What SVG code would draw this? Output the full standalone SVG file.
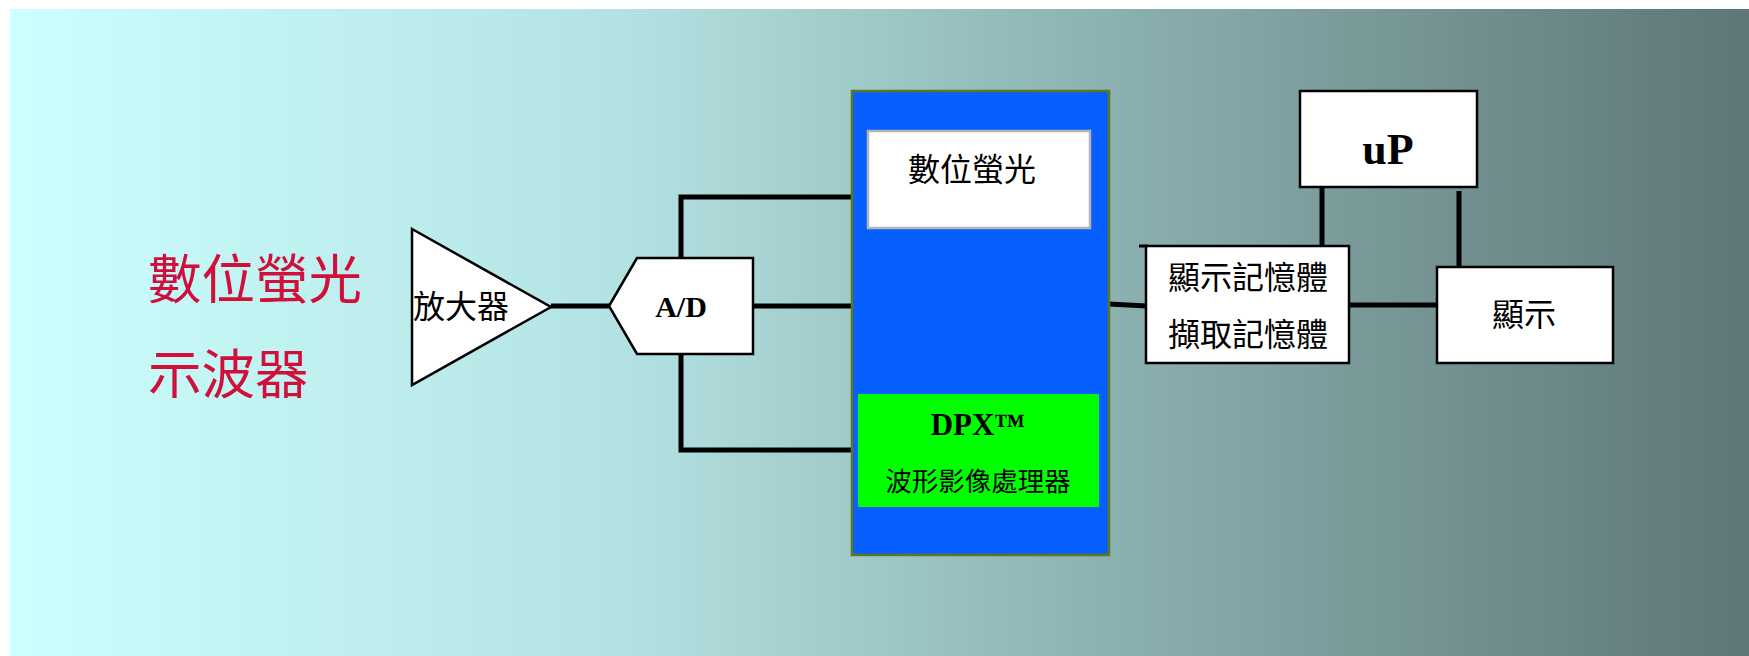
<svg xmlns="http://www.w3.org/2000/svg" width="1749" height="656" viewBox="0 0 1749 656">
<defs>
<linearGradient id="bg" x1="0" y1="0" x2="1" y2="0">
<stop offset="0" stop-color="#ccffff"/>
<stop offset="0.35" stop-color="#b4e2e2"/>
<stop offset="0.6" stop-color="#90b6b6"/>
<stop offset="1" stop-color="#5e7676"/>
</linearGradient>
<style>
.box{fill:#ffffff;stroke:#000000;stroke-width:2.5}
.wire{fill:none;stroke:#000000;stroke-width:5}
.cjk{font-family:"Noto Sans CJK TC","Noto Sans CJK SC",sans-serif;fill:#000000}
.ser{font-family:"Liberation Serif",serif;font-weight:bold;fill:#000000}
</style>
</defs>
<rect x="0" y="0" width="1749" height="656" fill="#ffffff"/>
<rect x="10" y="9" width="1739" height="647" fill="url(#bg)"/>

<g id="title">
<text class="cjk" x="148" y="299" font-size="53.5" style="fill:#d0103a">數位螢光</text>
<text class="cjk" x="148" y="394" font-size="53.5" style="fill:#d0103a">示波器</text>
</g>

<g id="connectors">
<line class="wire" x1="551" y1="306" x2="610" y2="306"/>
<polyline class="wire" points="681,258 681,197 852,197"/>
<line class="wire" x1="753" y1="306" x2="852" y2="306"/>
<polyline class="wire" points="681,354 681,450 858,450"/>
<line class="wire" x1="1109" y1="304" x2="1147" y2="306"/>
<line class="wire" x1="1322" y1="187" x2="1322" y2="246"/>
<line class="wire" x1="1459" y1="191" x2="1459" y2="269"/>
<line class="wire" x1="1349" y1="305" x2="1440" y2="305"/>
<line stroke="#000" stroke-width="3" x1="1139" y1="246" x2="1148" y2="246"/>
</g>

<g id="amplifier">
<polygon class="box" points="412,229 551,307 412,385"/>
<text class="cjk" x="413" y="318" font-size="32">放大器</text>
</g>

<g id="ad">
<polygon class="box" points="609,306 637,258 753,258 753,354 637,354"/>
<text class="ser" x="681" y="317" font-size="30" text-anchor="middle">A/D</text>
</g>

<g id="dpx-block">
<rect x="852" y="91" width="257" height="464" fill="#085fff" stroke="#5a7a1a" stroke-width="2.5"/>
<rect x="868" y="131" width="222" height="97" fill="#ffffff" stroke="#b4b4b4" stroke-width="2.5"/>
<text class="cjk" x="972" y="181" font-size="32" text-anchor="middle">數位螢光</text>
<rect x="858" y="394" width="241" height="113" fill="#00ff00"/>
<text class="ser" x="978" y="435" font-size="31" text-anchor="middle">DPX™</text>
<text class="cjk" x="978" y="491" font-size="26.5" text-anchor="middle">波形影像處理器</text>
</g>

<g id="up">
<rect class="box" x="1300" y="91" width="177" height="96"/>
<text class="ser" x="1388" y="164" font-size="44" text-anchor="middle">uP</text>
</g>

<g id="memory">
<rect class="box" x="1146" y="246" width="203" height="117"/>
<text class="cjk" x="1248" y="289" font-size="32" text-anchor="middle">顯示記憶體</text>
<text class="cjk" x="1248" y="346" font-size="32" text-anchor="middle">擷取記憶體</text>
</g>

<g id="display">
<rect class="box" x="1437" y="267" width="176" height="96"/>
<text class="cjk" x="1524" y="326" font-size="32" text-anchor="middle">顯示</text>
</g>
</svg>
